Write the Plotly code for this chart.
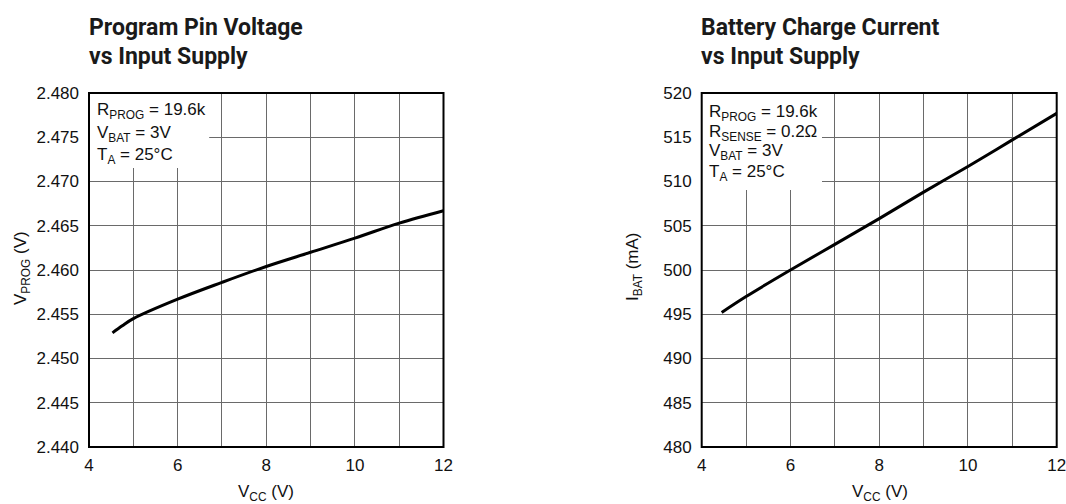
import plotly.graph_objects as go

W, H = 1066, 504

# ---- data ----
vcc_left = [4.53, 4.75, 5, 6, 7, 8, 9, 10, 11, 12]
vprog = [2.4529, 2.4537, 2.4545, 2.4567, 2.4586, 2.4604, 2.4620, 2.4636, 2.4653, 2.4667]

vcc_right = [4.45, 5, 6, 7, 8, 9, 10, 11, 12]
ibat = [495.2, 497.0, 500.0, 502.9, 505.8, 508.8, 511.7, 514.7, 517.7]

x_tickvals = [4, 5, 6, 7, 8, 9, 10, 11, 12]
x_ticktext = ["4", "", "6", "", "8", "", "10", "", "12"]
yl_tickvals = [2.440, 2.445, 2.450, 2.455, 2.460, 2.465, 2.470, 2.475, 2.480]
yr_tickvals = [480, 485, 490, 495, 500, 505, 510, 515, 520]

title_left = ["Program Pin Voltage", "vs Input Supply"]
title_right = ["Battery Charge Current", "vs Input Supply"]
cond_left = ["R<sub>PROG</sub> = 19.6k", "V<sub>BAT</sub> = 3V", "T<sub>A</sub> = 25°C"]
cond_right = ["R<sub>PROG</sub> = 19.6k", "R<sub>SENSE</sub> = 0.2Ω", "V<sub>BAT</sub> = 3V", "T<sub>A</sub> = 25°C"]

FONT = "Liberation Sans"
TFONT = "Roboto"

def px(x):
    return x / W

def py(y):
    return 1 - y / H

fig = go.Figure()
fig.add_trace(go.Scatter(x=vcc_left, y=vprog, mode="lines", line=dict(color="black", width=3, shape="spline"),
                         xaxis="x", yaxis="y", showlegend=False, hoverinfo="skip"))
fig.add_trace(go.Scatter(x=vcc_right, y=ibat, mode="lines", line=dict(color="black", width=3, shape="spline"),
                         xaxis="x2", yaxis="y2", showlegend=False, hoverinfo="skip"))

ydom = [py(447), py(93)]
axis_common = dict(showgrid=True, gridcolor="#6a6a6a", gridwidth=1.2, zeroline=False, showline=False,
                   ticks="", automargin=False, ticklabeloverflow="allow",
                   tickfont=dict(family=FONT, size=17, color="#111"), fixedrange=True)

fig.update_layout(
    width=W, height=H, margin=dict(l=0, r=0, t=0, b=0),
    paper_bgcolor="white", plot_bgcolor="white",
    xaxis=dict(domain=[px(89), px(443.5)], range=[4, 12], tickvals=x_tickvals, ticktext=x_ticktext,
               anchor="y", ticklabelstandoff=6, **axis_common),
    yaxis=dict(domain=ydom, range=[2.44, 2.48], tickvals=yl_tickvals, tickformat=".3f",
               anchor="x", ticklabelstandoff=9, **axis_common),
    xaxis2=dict(domain=[px(701.7), px(1056.7)], range=[4, 12], tickvals=x_tickvals, ticktext=x_ticktext,
                anchor="y2", ticklabelstandoff=6, **axis_common),
    yaxis2=dict(domain=ydom, range=[480, 520], tickvals=yr_tickvals, tickformat="d",
                anchor="x2", ticklabelstandoff=9, **axis_common),
)

shapes = []
# white condition boxes covering grid
shapes.append(dict(type="rect", xref="x domain", yref="y domain", x0=0, x1=(209 - 89) / 354,
                   y0=(447 - 168) / 354, y1=1, fillcolor="white", line=dict(width=0), layer="above"))
shapes.append(dict(type="rect", xref="x2 domain", yref="y2 domain", x0=0, x1=(822 - 701.7) / 355,
                   y0=(447 - 190) / 354, y1=1, fillcolor="white", line=dict(width=0), layer="above"))
# frames
shapes.append(dict(type="rect", xref="x domain", yref="y domain", x0=0, x1=1, y0=0, y1=1,
                   line=dict(color="black", width=2), layer="above"))
shapes.append(dict(type="rect", xref="x2 domain", yref="y2 domain", x0=0, x1=1, y0=0, y1=1,
                   line=dict(color="black", width=2), layer="above"))
fig.update_layout(shapes=shapes)

ann = []
# titles
for i, t in enumerate(title_left):
    ann.append(dict(text=t, x=px(88), y=py([27, 56][i]), xref="paper", yref="paper", xanchor="left",
                    yanchor="middle", showarrow=False, borderpad=0,
                    font=dict(family=TFONT, size=23, color="#1a1a1a", weight="bold")))
for i, t in enumerate(title_right):
    ann.append(dict(text=t, x=px(700), y=py([27, 56][i]), xref="paper", yref="paper", xanchor="left",
                    yanchor="middle", showarrow=False, borderpad=0,
                    font=dict(family=TFONT, size=23, color="#1a1a1a", weight="bold")))
# conditions
for t, yc in zip(cond_left, [111, 134, 156]):
    ann.append(dict(text=t, x=px(95.5), y=py(yc), xref="paper", yref="paper", xanchor="left",
                    yanchor="middle", showarrow=False, borderpad=0,
                    font=dict(family=FONT, size=17, color="#111")))
for t, yc in zip(cond_right, [113, 133, 152, 173]):
    ann.append(dict(text=t, x=px(708), y=py(yc), xref="paper", yref="paper", xanchor="left",
                    yanchor="middle", showarrow=False, borderpad=0,
                    font=dict(family=FONT, size=17, color="#111")))
# axis titles
ann.append(dict(text="V<sub>CC</sub> (V)", x=px(266), y=py(493), xref="paper", yref="paper",
                xanchor="center", yanchor="middle", showarrow=False,
                font=dict(family=FONT, size=17, color="#111")))
ann.append(dict(text="V<sub>CC</sub> (V)", x=px(880), y=py(493), xref="paper", yref="paper",
                xanchor="center", yanchor="middle", showarrow=False,
                font=dict(family=FONT, size=17, color="#111")))
ann.append(dict(text="V<sub>PROG</sub> (V)", x=px(22), y=py(268), xref="paper", yref="paper",
                xanchor="center", yanchor="middle", textangle=-90, showarrow=False,
                font=dict(family=FONT, size=17, color="#111")))
ann.append(dict(text="I<sub>BAT</sub> (mA)", x=px(634), y=py(267), xref="paper", yref="paper",
                xanchor="center", yanchor="middle", textangle=-90, showarrow=False,
                font=dict(family=FONT, size=17, color="#111")))
fig.update_layout(annotations=ann)

fig.write_html("out.html")
